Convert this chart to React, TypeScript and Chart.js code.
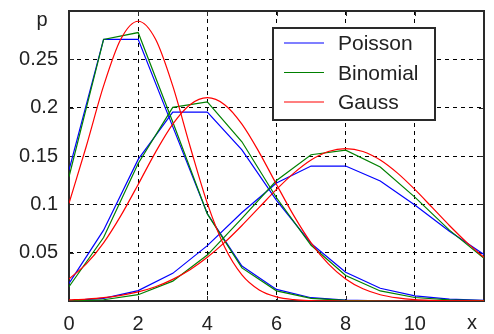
import { useEffect, useRef } from 'react';
import { Chart, registerables } from 'chart.js';

Chart.register(...registerables);

const FONT = '"Liberation Sans", Arial, Helvetica, sans-serif';

// integer abscissas for the discrete distributions
const kValues = [0, 1, 2, 3, 4, 5, 6, 7, 8, 9, 10, 11, 12];

const poisson2 = [0.1353, 0.2707, 0.2707, 0.1804, 0.0902, 0.0361, 0.012, 0.0034, 0.0009, 0.0002, 0.0, 0.0, 0.0];
const poisson4 = [0.0183, 0.0733, 0.1465, 0.1954, 0.1954, 0.1563, 0.1042, 0.0595, 0.0298, 0.0132, 0.0053, 0.0019, 0.0006];
const poisson8 = [0.0003, 0.0027, 0.0107, 0.0286, 0.0573, 0.0916, 0.1221, 0.1396, 0.1396, 0.1241, 0.0993, 0.0722, 0.0481];

const binom2 = [0.1285, 0.2706, 0.2777, 0.1851, 0.0901, 0.0342, 0.0105, 0.0027, 0.0006, 0.0001, 0.0, 0.0, 0.0];
const binom4 = [0.0148, 0.0657, 0.1423, 0.2003, 0.2059, 0.1647, 0.1068, 0.0576, 0.0264, 0.0104, 0.0036, 0.0011, 0.0003];
const binom8 = [0.0001, 0.0013, 0.0065, 0.0205, 0.0475, 0.0854, 0.1246, 0.1513, 0.156, 0.1387, 0.1075, 0.0733, 0.0443];

// abscissas for the continuous (Gauss) curves
const gaussX = [0, 0.5, 1, 1.5, 2, 2.5, 3, 3.5, 4, 4.5, 5, 5.5, 6, 6.5, 7, 7.5, 8, 8.5, 9, 9.5, 10, 10.5, 11, 11.5, 12];
const gauss2 = [0.101, 0.1601, 0.2225, 0.271, 0.2894, 0.271, 0.2225, 0.1601, 0.101, 0.0559, 0.0271, 0.0115, 0.0043, 0.0014, 0.0004, 0.0001, 0.0, 0.0, 0.0, 0.0, 0.0, 0.0, 0.0, 0.0, 0.0];
const gauss4 = [0.0228, 0.0384, 0.0602, 0.0883, 0.1206, 0.1538, 0.183, 0.2031, 0.2103, 0.2031, 0.183, 0.1538, 0.1206, 0.0883, 0.0602, 0.0384, 0.0228, 0.0126, 0.0065, 0.0032, 0.0014, 0.0006, 0.0002, 0.0001, 0.0];
const gauss8 = [0.0011, 0.002, 0.0034, 0.0058, 0.0095, 0.0148, 0.0224, 0.0324, 0.0452, 0.0606, 0.0781, 0.0968, 0.1154, 0.1323, 0.1459, 0.1547, 0.1577, 0.1547, 0.1459, 0.1323, 0.1154, 0.0968, 0.0781, 0.0606, 0.0452];

const seriesNames = ['Poisson', 'Binomial', 'Gauss'];
const seriesColors = ['#0000ff', '#008000', '#ff0000'];

const xMin = 0;
const xMax = 12;
const xStep = 2;
const yMin = 0;
const yMax = 0.3;
const yStep = 0.05;
const xAxisLabel = 'x';
const yAxisLabel = 'p';

const toPoints = (xs: number[], ys: number[]) => xs.map((x, i) => ({ x, y: ys[i] }));

const framePlugin = {
  id: 'frame',
  beforeDatasetsDraw(chart: any) {
    const { ctx, chartArea: a, scales } = chart;
    ctx.save();
    ctx.strokeStyle = '#2a2a2a';
    ctx.lineWidth = 2;
    ctx.strokeRect(a.left, a.top, a.right - a.left, a.bottom - a.top);
    ctx.lineWidth = 1;
    ctx.beginPath();
    const tl = 5;
    scales.x.ticks.forEach((t: any) => {
      if (t.value <= xMin || t.value >= xMax) return;
      const px = Math.round(scales.x.getPixelForValue(t.value)) + 0.5;
      ctx.moveTo(px, a.bottom);
      ctx.lineTo(px, a.bottom - tl);
      ctx.moveTo(px, a.top);
      ctx.lineTo(px, a.top + tl);
    });
    scales.y.ticks.forEach((t: any) => {
      if (t.value <= yMin + 1e-9 || t.value >= yMax - 1e-9) return;
      const py = Math.round(scales.y.getPixelForValue(t.value)) + 0.5;
      ctx.moveTo(a.left, py);
      ctx.lineTo(a.left + tl, py);
      ctx.moveTo(a.right, py);
      ctx.lineTo(a.right - tl, py);
    });
    ctx.stroke();
    ctx.restore();
  },
  afterDraw(chart: any) {
    const { ctx, chartArea: a, scales } = chart;
    ctx.save();
    ctx.fillStyle = '#222';
    ctx.font = `20px ${FONT}`;
    ctx.textAlign = 'center';
    ctx.textBaseline = 'alphabetic';
    ctx.fillText(yAxisLabel, a.left - 27, a.top + 15);
    ctx.fillText(xAxisLabel, scales.x.getPixelForValue(xMax) - 12, a.bottom + 28);

    // legend box
    const lx = a.left + 204;
    const ly = a.top + 17;
    const lw = 162;
    const lh = 92;
    ctx.fillStyle = '#ffffff';
    ctx.fillRect(lx, ly, lw, lh);
    ctx.strokeStyle = '#2a2a2a';
    ctx.lineWidth = 2;
    ctx.strokeRect(lx, ly, lw, lh);
    ctx.font = `21px ${FONT}`;
    seriesNames.forEach((name, i) => {
      const y = ly + 15 + i * 29.5;
      ctx.strokeStyle = seriesColors[i];
      ctx.lineWidth = 1.2;
      ctx.beginPath();
      ctx.moveTo(lx + 11, y);
      ctx.lineTo(lx + 51, y);
      ctx.stroke();
      ctx.fillStyle = '#222';
      ctx.textAlign = 'left';
      ctx.textBaseline = 'middle';
      ctx.fillText(name, lx + 65, y + 1.5);
    });
    ctx.restore();
  },
};

export default function App() {
  const ref = useRef<HTMLCanvasElement | null>(null);

  useEffect(() => {
    if (!ref.current) return;
    const mk = (label: string, color: string, data: any[], smooth: boolean) => ({
      label,
      data,
      borderColor: color,
      backgroundColor: color,
      borderWidth: 1.2,
      pointRadius: 0,
      fill: false,
      tension: 0,
      cubicInterpolationMode: smooth ? 'monotone' : 'default',
    });
    const datasets = [
      mk(seriesNames[2], seriesColors[2], toPoints(gaussX, gauss2), true),
      mk(seriesNames[2], seriesColors[2], toPoints(gaussX, gauss4), true),
      mk(seriesNames[2], seriesColors[2], toPoints(gaussX, gauss8), true),
      mk(seriesNames[1], seriesColors[1], toPoints(kValues, binom2), false),
      mk(seriesNames[1], seriesColors[1], toPoints(kValues, binom4), false),
      mk(seriesNames[1], seriesColors[1], toPoints(kValues, binom8), false),
      mk(seriesNames[0], seriesColors[0], toPoints(kValues, poisson2), false),
      mk(seriesNames[0], seriesColors[0], toPoints(kValues, poisson4), false),
      mk(seriesNames[0], seriesColors[0], toPoints(kValues, poisson8), false),
    ];
    const gridColor = (edgeLo: number, edgeHi: number) => (c: any) =>
      c.tick && (c.tick.value <= edgeLo + 1e-9 || c.tick.value >= edgeHi - 1e-9) ? 'rgba(0,0,0,0)' : '#000';

    const chart = new Chart(ref.current, {
      type: 'line',
      data: { datasets: datasets as any },
      plugins: [framePlugin],
      options: {
        animation: false,
        responsive: false,
        devicePixelRatio: 1,
        layout: { padding: { top: 11, right: 10, left: 0, bottom: 0 } },
        plugins: { legend: { display: false }, tooltip: { enabled: false } },
        scales: {
          x: {
            type: 'linear',
            min: xMin,
            max: xMax,
            ticks: {
              stepSize: xStep,
              color: '#222',
              font: { family: FONT, size: 20 },
              padding: 11,
              maxRotation: 0,
              autoSkip: false,
              callback: (v: any) => (Number(v) >= xMax ? '' : String(v)),
            },
            grid: { color: gridColor(xMin, xMax), lineWidth: 1, drawTicks: false },
            border: { display: false, dash: [4, 4] },
            afterFit: (s: any) => {
              s.height = 33;
              s.paddingLeft = 0;
              s.paddingRight = 0;
            },
          },
          y: {
            type: 'linear',
            min: yMin,
            max: yMax,
            ticks: {
              stepSize: yStep,
              color: '#222',
              font: { family: FONT, size: 20 },
              padding: 11,
              autoSkip: false,
              callback: (v: any) => {
                const n = Number(v);
                if (n <= yMin + 1e-9 || n >= yMax - 1e-9) return '';
                return String(Number(n.toFixed(2)));
              },
            },
            grid: { color: gridColor(yMin, yMax), lineWidth: 1, drawTicks: false },
            border: { display: false, dash: [4, 4] },
            afterFit: (s: any) => {
              s.width = 69;
              s.paddingTop = 0;
              s.paddingBottom = 0;
            },
          },
        },
      },
    });
    return () => chart.destroy();
  }, []);

  return (
    <div style={{ position: 'absolute', left: 0, top: 0, width: 494, height: 334, background: '#fff' }}>
      <canvas ref={ref} width={494} height={334} style={{ width: 494, height: 334, display: 'block' }} />
    </div>
  );
}
